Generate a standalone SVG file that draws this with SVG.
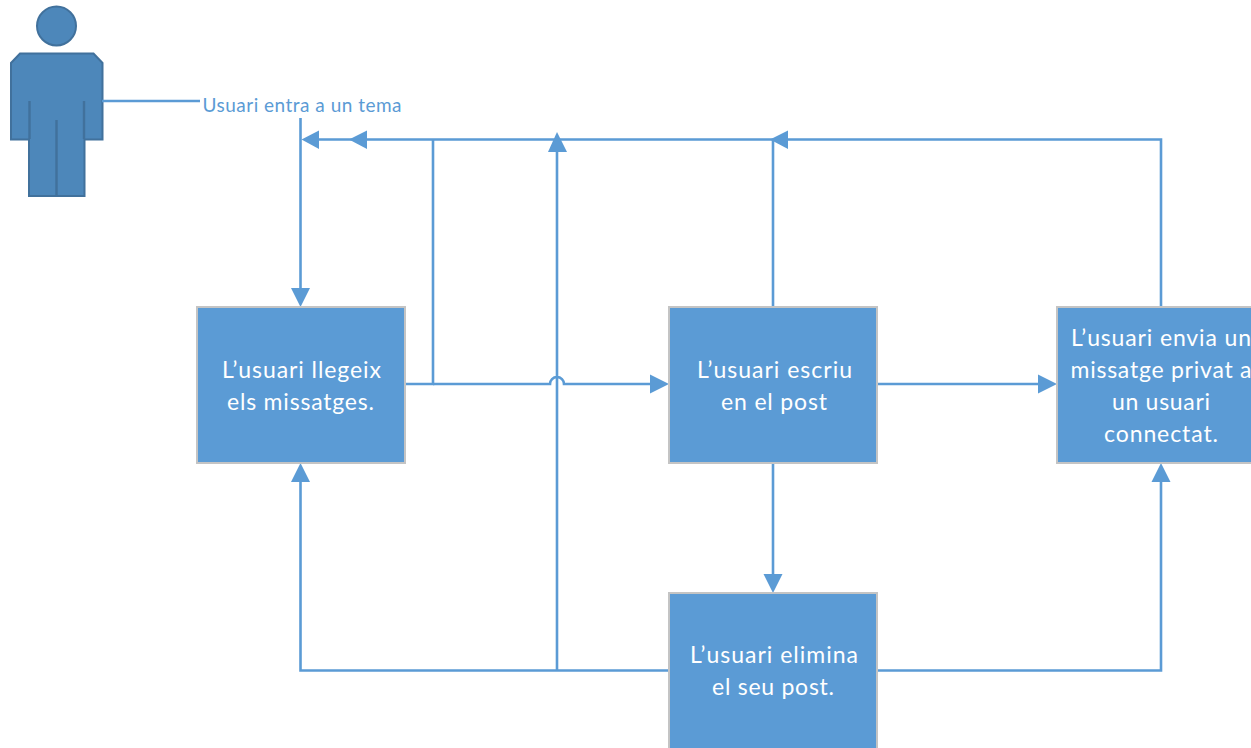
<svg xmlns="http://www.w3.org/2000/svg" width="1251" height="748" viewBox="0 0 1251 748">
<style>
.box{fill:#5b9bd5;stroke:#c4c4c4;stroke-width:2}
.t{font-family:"Lato","Liberation Sans",sans-serif;font-size:23px;fill:#fff;text-anchor:middle}
.c{fill:none;stroke:#5b9bd5;stroke-width:2.6}
.a{fill:#5b9bd5}
.p{fill:#4d87ba;stroke:#41719c;stroke-width:2}
.l{fill:none;stroke:#41719c;stroke-width:2.4}
</style>
<rect width="1251" height="748" fill="#fff"/>
<g id="actor">
<circle class="p" cx="56.500" cy="26" r="19.500"/>
<path class="p" d="M20 53.500H93.500L102.500 63V139.500H84.500V196H29V139.500H11V63Z"/>
<path class="l" d="M29.500 101V139M84 101V139M56.500 120V196"/>
</g>
<g id="connectors">
<path class="c" d="M102 101H200"/>
<path class="c" d="M300.500 118V290"/><path class="a" d="M300.500 307L291 288H310Z"/>
<path class="c" d="M1161 307V139.500H316"/>
<path class="a" d="M301.500 139.500L319 130.500V149Z"/>
<path class="a" d="M349 139.500L367 130.500V149Z"/>
<path class="a" d="M770 139.500L788 130.500V149Z"/>
<path class="c" d="M773 307V140"/>
<path class="c" d="M405 384H433V140"/>
<path class="c" d="M433 384H550A7 7 0 0 1 564 384H652"/><path class="a" d="M669 384L650 374.500V393.500Z"/>
<path class="c" d="M877 384H1040"/><path class="a" d="M1057 384L1038 374.500V393.500Z"/>
<path class="c" d="M773 463V576"/><path class="a" d="M773 593L763.500 574H782.500Z"/>
<path class="c" d="M669 670.500H300.500V480"/><path class="a" d="M300.500 463L291 482H310Z"/>
<path class="c" d="M557 670.500V150"/><path class="a" d="M557 132L548 152H567Z"/>
<path class="c" d="M877 670.500H1161V480"/><path class="a" d="M1161 463L1151.500 482H1170.500Z"/>
</g>
<g id="label-entra"><text x="302" y="112" text-anchor="middle" style="font-family:Lato,'Liberation Sans',sans-serif;font-size:19px;fill:#5b9bd5" textLength="199" lengthAdjust="spacing">Usuari entra a un tema</text></g>
<g id="node-llegeix"><rect class="box" x="197" y="307" width="208" height="156"/>
<text class="t" x="301.500" y="378" textLength="159">L’usuari llegeix</text><text class="t" x="300.500" y="410" textLength="147">els missatges.</text></g>
<g id="node-escriu"><rect class="box" x="669" y="307" width="208" height="156"/>
<text class="t" x="774.500" y="378" textLength="155">L’usuari escriu</text><text class="t" x="774" y="410" textLength="106">en el post</text></g>
<g id="node-envia"><rect class="box" x="1057" y="307" width="208" height="156"/>
<text class="t" x="1161" y="346" textLength="180">L’usuari envia un</text><text class="t" x="1161" y="378" textLength="181">missatge privat a</text><text class="t" x="1161" y="410" textLength="98">un usuari</text><text class="t" x="1161" y="442" textLength="114">connectat.</text></g>
<g id="node-elimina"><rect class="box" x="669" y="593" width="208" height="156"/>
<text class="t" x="774" y="663" textLength="168">L’usuari elimina</text><text class="t" x="773" y="695" textLength="122">el seu post.</text></g>
</svg>
